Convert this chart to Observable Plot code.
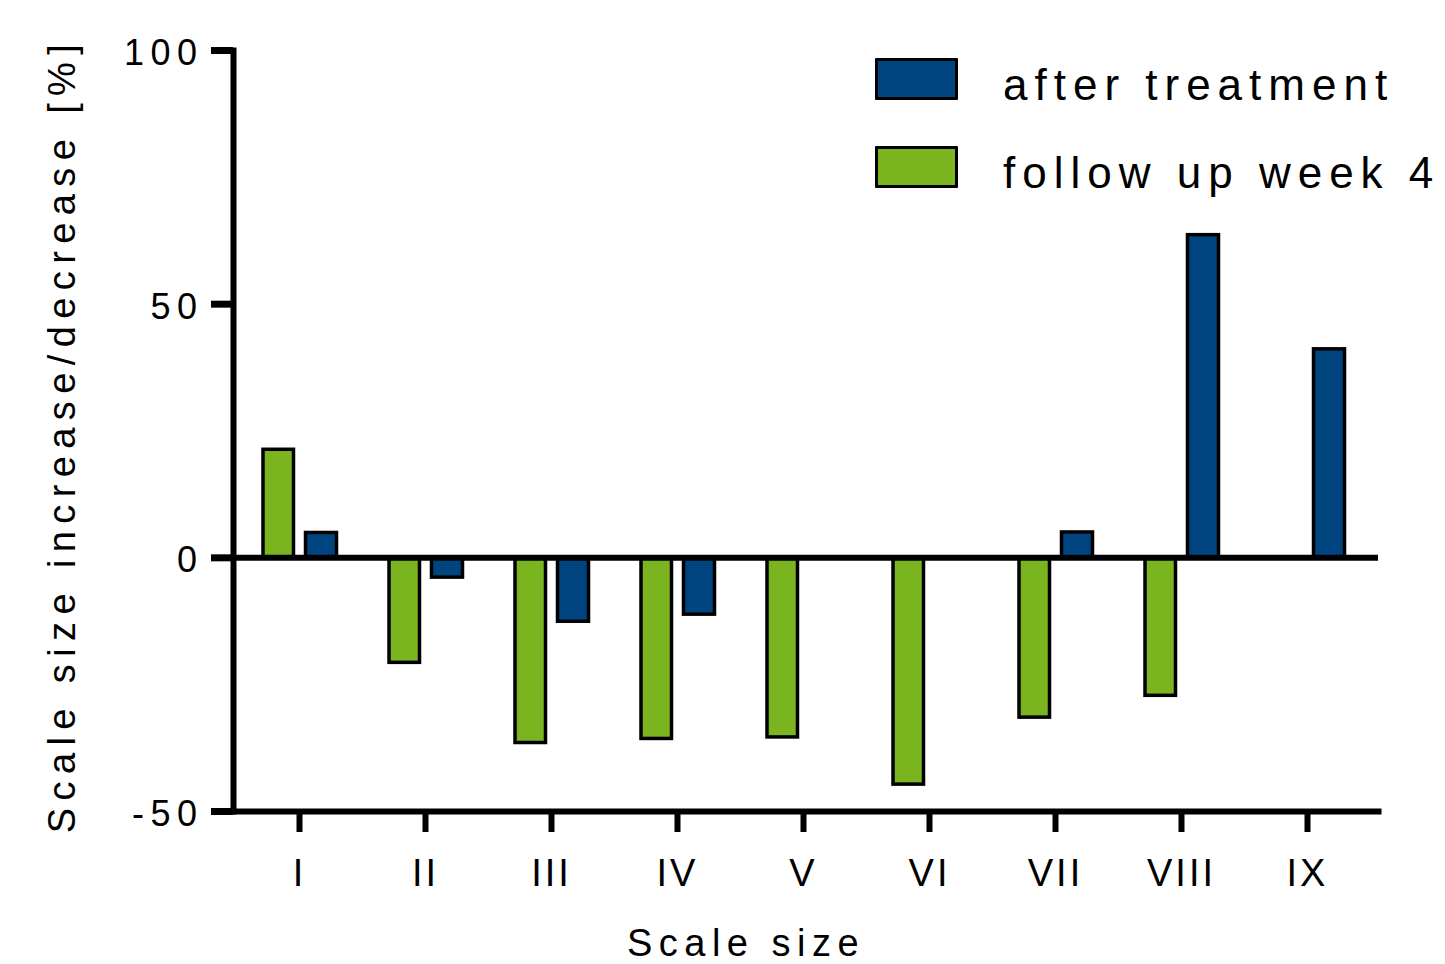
<!DOCTYPE html>
<html>
<head>
<meta charset="utf-8">
<script src="https://cdn.jsdelivr.net/npm/d3@7"></script>
<script src="https://cdn.jsdelivr.net/npm/@observablehq/plot@0.6"></script>
<style>
  html, body { margin: 0; padding: 0; background: #fff; overflow: hidden; }
  #wrap { position: relative; width: 1445px; height: 964px; overflow: hidden; font-family: "Liberation Sans", Arial, sans-serif; }
  #wrap svg text { letter-spacing: 6.5px; }
  #wrap svg g[aria-label="x-axis tick label"] text { letter-spacing: 3px; }
  .legend-item { position: absolute; left: 875px; }
  .swatch { position: absolute; left: 0; width: 83px; height: 42px; box-sizing: border-box; border: 3.5px solid #000; border-radius: 1px; }
  .legend-text { position: absolute; left: 128px; font-size: 44px; line-height: 44px; letter-spacing: 7px; white-space: nowrap; color: #000; }
</style>
</head>
<body>
<div id="wrap"></div>
<script>
// ---- data ----
const categories = ["I", "II", "III", "IV", "V", "VI", "VII", "VIII", "IX"];
const seriesNames = ["follow up week 4", "after treatment"];
const followUpWeek4 = [21.3, -20.7, -36.5, -35.7, -35.4, -44.7, -31.5, -27.2, null];
const afterTreatment = [4.9, -3.9, -12.6, -11.2, null, null, 5.0, 63.6, 41.1];
const yTicks = [-50, 0, 50, 100];
const yLabel = "Scale size increase/decrease [%]";
const xLabel = "Scale size";
const colors = { "follow up week 4": "#7AB41F", "after treatment": "#00457F" };

const followRows = categories.map((c, i) => ({ category: c, series: seriesNames[0], value: followUpWeek4[i] })).filter(d => d.value != null);
const afterRows = categories.map((c, i) => ({ category: c, series: seriesNames[1], value: afterTreatment[i] })).filter(d => d.value != null);

const plot = Plot.plot({
  width: 1445,
  height: 964,
  marginLeft: 233,
  marginRight: 67,
  marginTop: 50,
  marginBottom: 153,
  style: { fontFamily: "Liberation Sans, Arial, sans-serif", fontSize: "38px", color: "#000", background: "#fff", overflow: "visible" },
  x: { type: "band", domain: categories, range: [232.5, 1373.5], padding: 0 },
  y: { domain: [-50, 100] },
  marks: [
    Plot.barY(followRows, { x: "category", y: "value", fill: d => colors[d.series], stroke: "#000", strokeWidth: 3.5, insetLeft: 27, insetRight: 68.5 }),
    Plot.barY(afterRows, { x: "category", y: "value", fill: d => colors[d.series], stroke: "#000", strokeWidth: 3.5, insetLeft: 69.5, insetRight: 25.5 }),
    Plot.ruleY([0], { stroke: "#000", strokeWidth: 6 }),
    Plot.frame({ anchor: "left", stroke: "#000", strokeWidth: 6, strokeLinecap: "square" }),
    Plot.frame({ anchor: "bottom", stroke: "#000", strokeWidth: 6, strokeLinecap: "square" }),
    Plot.axisY({ ticks: yTicks, tickSize: 22, strokeWidth: 7, label: null, tickFormat: () => "" }),
    Plot.axisY({ ticks: yTicks, tickSize: 0, tickPadding: 30, dy: 3, fontSize: 36, label: null, tickFormat: d => String(d) }),
    Plot.axisX({ tickSize: 21, strokeWidth: 6, tickPadding: 27, fontSize: 38, label: null }),
    Plot.text([yLabel], { text: d => d, frameAnchor: "left", textAnchor: "middle", lineAnchor: "middle", rotate: -90, dx: -171, dy: 4, fontSize: 38 }),
    Plot.text([xLabel], { text: d => d, frameAnchor: "bottom", textAnchor: "middle", lineAnchor: "middle", dx: -60, dy: 132, fontSize: 38 })
  ]
});

// tracking for the rotated y-axis title
d3.select(plot).selectAll("text").filter(function () { return this.textContent === yLabel; }).style("letter-spacing", "7.4px");

const wrap = document.getElementById("wrap");
wrap.appendChild(plot);

// ---- legend (HTML overlay) ----
const legendOrder = ["after treatment", "follow up week 4"];
const legendTops = [58, 146];
legendOrder.forEach((name, i) => {
  const item = document.createElement("div");
  item.className = "legend-item";
  item.style.top = legendTops[i] + "px";
  const sw = document.createElement("div");
  sw.className = "swatch";
  sw.style.background = colors[name];
  sw.style.top = "0px";
  const tx = document.createElement("div");
  tx.className = "legend-text";
  tx.style.top = "5px";
  tx.textContent = name;
  item.appendChild(sw);
  item.appendChild(tx);
  wrap.appendChild(item);
});
</script>
</body>
</html>
